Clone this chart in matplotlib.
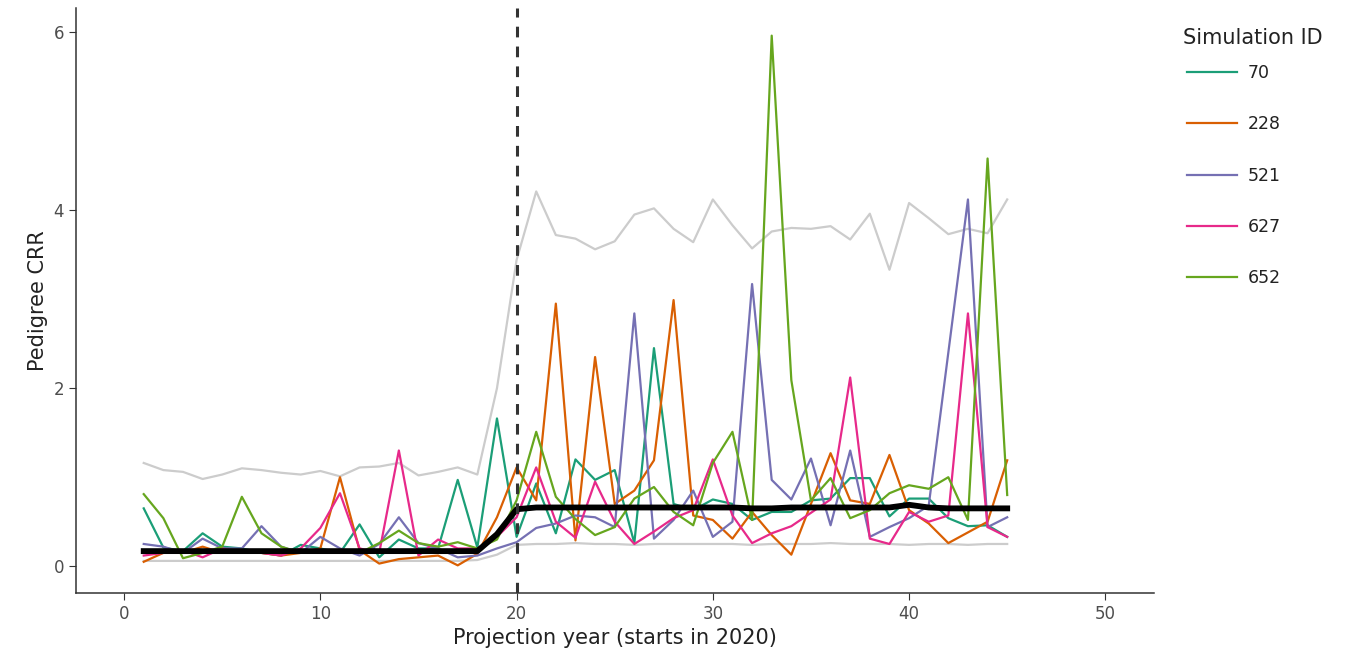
import matplotlib.pyplot as plt

# projection years 1..45
years = list(range(1, 46))

sim_ids = ['70', '228', '521', '627', '652']
sim_colors = ['#1b9e77', '#d95f02', '#7570b3', '#e7298a', '#66a61e']

sim_70 = [0.65, 0.21, 0.17, 0.37, 0.22, 0.20, 0.15, 0.12, 0.24, 0.20,
          0.15, 0.47, 0.10, 0.30, 0.20, 0.20, 0.97, 0.21, 1.66, 0.33,
          0.93, 0.37, 1.20, 0.97, 1.08, 0.26, 2.45, 0.70, 0.63, 0.75,
          0.70, 0.52, 0.61, 0.61, 0.74, 0.76, 0.99, 0.99, 0.56, 0.76,
          0.76, 0.54, 0.45, 0.46, 0.33]
sim_228 = [0.05, 0.15, 0.15, 0.22, 0.15, 0.15, 0.15, 0.12, 0.15, 0.20,
           1.00, 0.18, 0.03, 0.08, 0.10, 0.12, 0.01, 0.14, 0.55, 1.11,
           0.74, 2.95, 0.29, 2.35, 0.70, 0.85, 1.19, 2.99, 0.57, 0.52,
           0.31, 0.61, 0.35, 0.13, 0.70, 1.27, 0.74, 0.70, 1.25, 0.63,
           0.48, 0.26, 0.38, 0.50, 1.19]
sim_521 = [0.25, 0.22, 0.15, 0.31, 0.20, 0.20, 0.45, 0.22, 0.15, 0.33,
           0.20, 0.12, 0.25, 0.55, 0.26, 0.20, 0.10, 0.12, 0.20, 0.27,
           0.43, 0.48, 0.57, 0.55, 0.44, 2.84, 0.31, 0.52, 0.85, 0.33,
           0.50, 3.17, 0.97, 0.75, 1.21, 0.46, 1.30, 0.33, 0.44, 0.54,
           0.68, 2.40, 4.12, 0.44, 0.55]
sim_627 = [0.12, 0.15, 0.18, 0.10, 0.20, 0.15, 0.15, 0.12, 0.20, 0.43,
           0.82, 0.20, 0.15, 1.30, 0.12, 0.30, 0.20, 0.20, 0.33, 0.55,
           1.11, 0.50, 0.32, 0.95, 0.50, 0.25, 0.39, 0.54, 0.63, 1.20,
           0.57, 0.26, 0.37, 0.45, 0.60, 0.75, 2.12, 0.31, 0.25, 0.61,
           0.50, 0.57, 2.84, 0.44, 0.33]
sim_652 = [0.81, 0.54, 0.09, 0.15, 0.22, 0.78, 0.37, 0.22, 0.15, 0.18,
           0.18, 0.15, 0.26, 0.40, 0.26, 0.22, 0.27, 0.20, 0.30, 0.74,
           1.51, 0.78, 0.53, 0.35, 0.44, 0.76, 0.89, 0.61, 0.46, 1.16,
           1.51, 0.52, 5.96, 2.09, 0.74, 0.99, 0.54, 0.63, 0.82, 0.91,
           0.87, 1.00, 0.52, 4.58, 0.80]
sims = [sim_70, sim_228, sim_521, sim_627, sim_652]

upper = [1.16, 1.08, 1.06, 0.98, 1.03, 1.10, 1.08, 1.05, 1.03, 1.07,
         1.01, 1.11, 1.12, 1.16, 1.02, 1.06, 1.11, 1.03, 2.00, 3.44,
         4.21, 3.72, 3.68, 3.56, 3.65, 3.95, 4.02, 3.79, 3.64, 4.12,
         3.83, 3.57, 3.76, 3.80, 3.79, 3.82, 3.67, 3.96, 3.33, 4.08,
         3.91, 3.73, 3.79, 3.74, 4.12]
lower = [0.06, 0.06, 0.06, 0.06, 0.06, 0.06, 0.06, 0.06, 0.06, 0.06,
         0.06, 0.06, 0.06, 0.06, 0.06, 0.06, 0.06, 0.07, 0.13, 0.24,
         0.25, 0.25, 0.26, 0.25, 0.25, 0.24, 0.25, 0.25, 0.25, 0.25,
         0.25, 0.24, 0.25, 0.25, 0.25, 0.26, 0.25, 0.25, 0.25, 0.24,
         0.25, 0.25, 0.24, 0.25, 0.25]
mean_crr = [0.17, 0.17, 0.17, 0.17, 0.17, 0.17, 0.17, 0.17, 0.17, 0.17,
            0.17, 0.17, 0.17, 0.17, 0.17, 0.17, 0.17, 0.17, 0.36, 0.64,
            0.66, 0.66, 0.66, 0.66, 0.66, 0.66, 0.66, 0.66, 0.66, 0.66,
            0.66, 0.65, 0.65, 0.66, 0.66, 0.66, 0.66, 0.66, 0.66, 0.69,
            0.66, 0.65, 0.65, 0.65, 0.65]

fig = plt.figure(figsize=(13.65, 6.70), dpi=100)
ax = fig.add_axes([0.0557, 0.115, 0.79, 0.873])

ax.plot(years, upper, color='#cccccc', lw=1.6, zorder=1)
ax.plot(years, lower, color='#cccccc', lw=1.6, zorder=1)
for sid, vals, col in zip(sim_ids, sims, sim_colors):
    ax.plot(years, vals, color=col, lw=1.6, label=sid, zorder=2)
ax.plot(years, mean_crr, color='black', lw=4.2, zorder=3)
ax.axvline(20, color='#333333', lw=2.2, ls=(0, (3.5, 3)), zorder=4)

ax.set_xlim(-2.45, 52.5)
ax.set_ylim(-0.30, 6.27)
ax.set_xticks([0, 10, 20, 30, 40, 50])
ax.set_yticks([0, 2, 4, 6])

for s in ['top', 'right']:
    ax.spines[s].set_visible(False)
for s in ['left', 'bottom']:
    ax.spines[s].set_color('#333333')
    ax.spines[s].set_linewidth(1.1)
ax.tick_params(colors='#333333', labelcolor='#4d4d4d', labelsize=12, length=5)

ax.set_xlabel('Projection year (starts in 2020)', fontsize=15, color='#222222')
ax.set_ylabel('Pedigree CRR', fontsize=15, color='#222222')

# legend title placed by hand, entries below it
fig.text(1183 / 1365, 1 - 38 / 670, 'Simulation ID', fontsize=15,
         color='#222222', ha='left', va='center')
handles, labels = ax.get_legend_handles_labels()
leg = fig.legend(handles, labels, loc='upper left',
                 bbox_to_anchor=(1187 / 1365, 1 - 64 / 670),
                 frameon=False, fontsize=12.5, borderaxespad=0, borderpad=0,
                 labelspacing=1.92, handlelength=2.9, handletextpad=0.6)
for t in leg.get_texts():
    t.set_color('#222222')

fig.savefig('out.png', dpi=100)
